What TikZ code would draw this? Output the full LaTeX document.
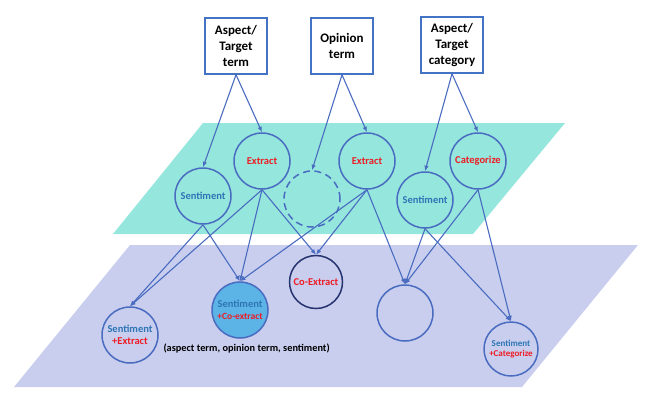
\documentclass[tikz,border=0pt]{standalone}
\usepackage{fontspec}
\setmainfont{Carlito}
\usetikzlibrary{arrows.meta}

\definecolor{boxblue}{HTML}{4472C4}
\definecolor{ringblue}{HTML}{4A6CC0}
\definecolor{ringnavy}{HTML}{26336E}
\definecolor{sentblue}{HTML}{2E75B6}
\definecolor{opred}{HTML}{EE1C25}
\definecolor{layerteal}{HTML}{95E6DC}
\definecolor{layerlav}{HTML}{C9CEEE}
\definecolor{fillblue}{HTML}{5CB3E6}

\begin{document}
\begin{tikzpicture}[
		x=1pt, y=-1pt,
		>={Latex[length=5.5pt,width=4.5pt]},
		term/.style={draw=boxblue, line width=1.5pt, fill=white, minimum width=62pt, minimum height=56pt, inner sep=1pt, align=center, font=\fontsize{13}{16}\selectfont\bfseries},
		task/.style={circle, draw=ringblue, line width=1.5pt, minimum size=56pt, inner sep=0pt, align=center, font=\fontsize{10.5}{12}\selectfont\bfseries},
		small/.style={font=\fontsize{9}{10.5}\selectfont\bfseries},
		link/.style={->, draw=ringblue, line width=1.1pt},
	]
	\useasboundingbox (0,0) rectangle (650,405);
	% the two layers
	\fill[layerteal] (113,234) -- (203,123) -- (565,123) -- (473,234) -- cycle;
	\fill[layerlav] (14,387) -- (130,245) -- (638,245) -- (522,387) -- cycle;
	% inputs
	\node[term] (aspect) at (236,46) {Aspect/\\Target\\term};
	\node[term] (opinion) at (342,46) {Opinion\\term};
	\node[term] (category) at (452,45) {Aspect/\\Target\\category};
	% single tasks
	\node[task, text=sentblue] (sentL) at (203,196) {Sentiment};
	\node[task, text=opred] (extL) at (262,161) {Extract};
	\node[task, dashed, dash pattern=on 7pt off 4.5pt] (hidden) at (312,199) {};
	\node[task, text=opred] (extR) at (367,161) {Extract};
	\node[task, text=sentblue] (sentR) at (425,200) {Sentiment};
	\node[task, text=opred] (categ) at (478,161) {Categorize};
	% compound tasks
	\node[task] (sentExt) at (130,335) {\textcolor{sentblue}{Sentiment}\\\textcolor{opred}{+Extract}};
	\node[task, fill=fillblue] (sentCo) at (240,310) {\textcolor{sentblue}{Sentiment}\\{\fontsize{9.5}{10.5}\selectfont\textcolor{opred}{+Co-extract}}};
	\node[task, draw=ringnavy, text=opred, minimum size=53pt] (coExt) at (316,282) {Co-Extract};
	\node[task] (joint) at (405,313) {};
	\node[task, small, minimum size=54pt] (sentCat) at (511,349) {\textcolor{sentblue}{Sentiment}\\\textcolor{opred}{+Categorize}};
	\node[anchor=west, font=\fontsize{10.3}{12}\selectfont\bfseries] (tuple) at (160,348) {(aspect term, opinion term, sentiment)};
	% inputs to tasks
	\draw[link] (aspect.south) -- (sentL.north);
	\draw[link] (aspect.south) -- (extL.north);
	\draw[link] (opinion.south) -- (hidden.north);
	\draw[link] (opinion.south) -- (extR.north);
	\draw[link] (category.south) -- (sentR.north);
	\draw[link] (category.south) -- (categ.north);
	% tasks to compound tasks
	\draw[link] (sentL.south) -- (sentExt.north);
	\draw[link] (sentL.south) -- (sentCo.north);
	\draw[link] (extL.south) -- (sentExt.north);
	\draw[link] (extL.south) -- (sentCo.north);
	\draw[link] (extL.south) -- (coExt.north);
	\draw[link] (extR.south) -- (sentCo.north);
	\draw[link] (extR.south) -- (coExt.north);
	\draw[link] (extR.south) -- (joint.north);
	\draw[link] (sentR.south) -- (joint.north);
	\draw[link] (sentR.south) -- (sentCat.north);
	\draw[link] (categ.south) -- (joint.north);
	\draw[link] (categ.south) -- (sentCat.north);
\end{tikzpicture}
\end{document}
